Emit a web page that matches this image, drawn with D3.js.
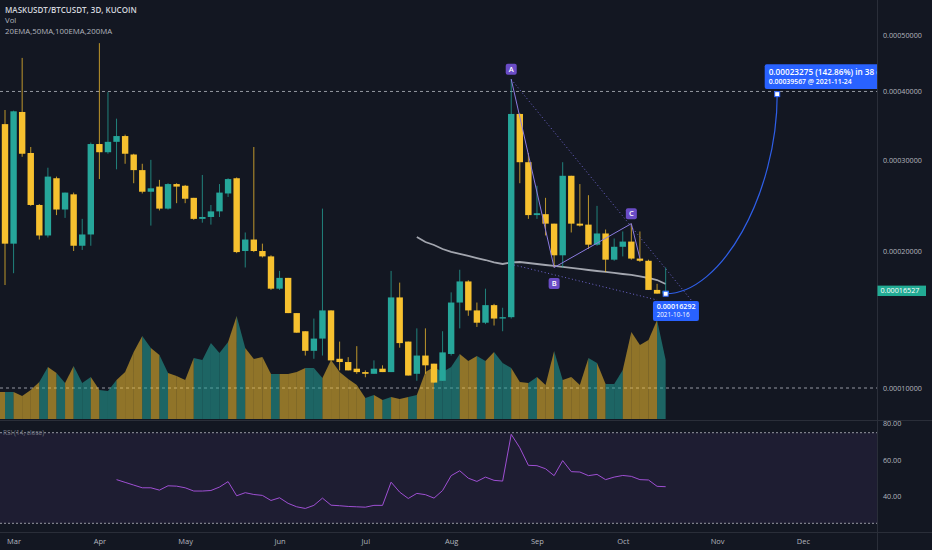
<!DOCTYPE html>
<html>
<head>
<meta charset="utf-8">
<script src="https://cdn.jsdelivr.net/npm/d3@7"></script>
<style>
  html, body { margin: 0; padding: 0; background: #131722; }
  svg { display: block; font-family: "Open Sans", sans-serif; }
</style>
</head>
<body>
<svg id="chart" width="932" height="550"></svg>
<script>
// prices are kept in units of 1e-4 BTC, one bar = 3 days
const firstBar = "2021-02-27";
const barDays = 3;

const opens = [3.50, 2.07, 3.68, 3.10, 2.47, 2.15, 2.78, 2.42, 2.59, 2.05,
  2.16, 3.22, 3.11, 3.25, 3.33, 3.08, 2.88, 2.62, 2.68, 2.43,
  2.71, 2.69, 2.55, 2.32, 2.34, 2.40, 2.60, 2.78, 2.00, 2.11,
  2.00, 1.95, 1.67, 1.76, 1.48, 1.35, 1.22, 1.30, 1.50, 1.17,
  1.15, 1.11, 1.09, 1.08, 1.11, 1.09, 1.60, 1.28, 1.08, 1.19,
  1.14, 1.04, 1.20, 1.56, 1.73, 1.50, 1.41, 1.54, 1.44, 1.45,
  3.65, 2.98, 2.36, 2.37, 2.27, 1.96, 2.81, 2.27, 2.26, 2.06,
  2.17, 1.92, 2.04, 2.09, 1.93, 1.91, 1.66, 1.63];
const highs = [3.71, 3.70, 4.57, 3.18, 2.48, 2.91, 2.80, 2.61, 2.61, 2.32,
  3.24, 4.84, 3.99, 3.58, 3.35, 3.09, 2.96, 3.01, 2.76, 2.72,
  2.72, 2.70, 2.55, 2.82, 2.47, 2.71, 2.78, 2.79, 2.18, 3.18,
  2.07, 1.96, 1.82, 1.76, 1.48, 1.35, 1.44, 2.43, 1.50, 1.28,
  1.18, 1.25, 1.10, 1.16, 1.13, 1.82, 1.72, 1.28, 1.37, 1.37,
  1.14, 1.35, 1.64, 1.83, 1.74, 1.56, 1.67, 1.55, 1.52, 4.20,
  3.66, 3.10, 2.69, 2.55, 2.27, 2.98, 2.81, 2.71, 2.58, 2.46,
  2.21, 2.12, 2.19, 2.27, 2.19, 1.92, 1.71, 1.85];
const lows = [1.70, 1.80, 3.05, 2.46, 2.11, 2.13, 2.36, 2.33, 2.00, 2.01,
  2.05, 2.77, 3.09, 2.89, 2.96, 2.72, 2.60, 2.25, 2.41, 2.42,
  2.49, 2.49, 2.31, 2.28, 2.26, 2.34, 2.56, 1.98, 1.85, 1.99,
  1.94, 1.66, 1.66, 1.48, 1.34, 1.19, 1.17, 1.19, 1.16, 1.10,
  1.10, 1.08, 1.06, 1.08, 1.09, 1.09, 1.24, 1.07, 1.04, 1.08,
  1.03, 1.04, 1.19, 1.37, 1.46, 1.38, 1.40, 1.39, 1.35, 1.44,
  2.72, 2.32, 2.32, 2.15, 1.85, 1.85, 2.18, 2.24, 2.02, 2.05,
  1.81, 1.91, 1.95, 1.92, 1.90, 1.66, 1.63, 1.6292];
const closes = [2.07, 3.69, 3.09, 2.47, 2.15, 2.80, 2.42, 2.61, 2.05, 2.16,
  3.22, 3.11, 3.25, 3.33, 3.09, 2.88, 2.62, 2.66, 2.43, 2.71,
  2.68, 2.54, 2.32, 2.34, 2.40, 2.61, 2.77, 1.99, 2.11, 2.00,
  1.95, 1.67, 1.76, 1.48, 1.34, 1.22, 1.30, 1.50, 1.16, 1.15,
  1.10, 1.09, 1.08, 1.11, 1.09, 1.60, 1.27, 1.07, 1.19, 1.13,
  1.03, 1.21, 1.56, 1.73, 1.50, 1.41, 1.54, 1.44, 1.45, 3.65,
  2.98, 2.36, 2.38, 2.27, 1.96, 2.81, 2.27, 2.25, 2.06, 2.17,
  1.92, 2.04, 2.09, 1.93, 1.91, 1.66, 1.63, 1.6527];
const volumes = [27, 27, 23, 29, 37, 52, 46, 36, 53, 36,
  42, 29, 28, 39, 47, 67, 83, 71, 64, 46,
  43, 39, 61, 59, 76, 66, 77, 103, 71, 60,
  62, 45, 45, 45, 47, 51, 51, 41, 59, 47,
  40, 34, 21, 24, 19, 22, 20, 22, 24, 47,
  52, 47, 52, 65, 58, 63, 58, 67, 56, 51,
  37, 36, 42, 34, 68, 39, 42, 34, 61, 56,
  35, 35, 49, 87, 74, 79, 99, 59];

// moving average (grey line) starts at bar 48
const maStart = 48;
const maValues = [2.135, 2.086, 2.057, 2.019, 1.991, 1.973, 1.954, 1.935, 1.917, 1.895,
  1.881, 1.895, 1.899, 1.890, 1.881, 1.872, 1.864, 1.855, 1.846, 1.837,
  1.828, 1.819, 1.811, 1.802, 1.793, 1.785, 1.772, 1.759, 1.742, 1.709];

// RSI(14) starts at bar 13
const rsiStart = 13;
const rsiValues = [49.1, 47.6, 46.1, 44.6, 44.6, 43.3, 45.7, 45.5, 44.6, 42.8,
  42.8, 43.1, 45.0, 48.0, 40.2, 41.9, 40.9, 40.4, 37.6, 39.1,
  36.0, 34.1, 33.2, 34.9, 38.9, 35.0, 34.7, 34.3, 34.1, 33.9,
  34.9, 34.9, 47.7, 42.2, 38.7, 41.5, 40.8, 38.9, 43.1, 51.3,
  54.0, 49.9, 48.1, 50.5, 48.7, 48.3, 74.1, 66.7, 57.0, 56.8,
  55.1, 51.3, 59.6, 53.5, 53.3, 51.3, 52.0, 49.1, 50.5, 51.4,
  50.9, 49.1, 48.9, 45.4, 45.2];

const monthTicks = ["2021-03-02", "2021-04-01", "2021-05-01", "2021-06-03", "2021-07-03",
  "2021-08-02", "2021-09-01", "2021-10-01", "2021-11-03", "2021-12-03"];
const priceTicks = [1, 2, 3, 4, 5];
const rsiTicks = [40, 60, 80];
const hLevels = [4, 1];

// ABCD pattern: [label, bar index, price]
const patternPoints = [["A", 59, 4.20], ["B", 64, 1.85], ["C", 73, 2.27], ["", 74, 1.93]];
const trendUpper = [[59, 4.20], [80.5, 1.55]];
const trendLower = [[59.4, 1.872], [76.1, 1.58]];

// forecast
const fcStart = ["2021-10-16", 1.6292];
const fcEnd = ["2021-11-24", 3.9567];
const lastPrice = 1.6527;

const W = 932, H = 550, paneRight = 877;
const UP = "#26a69a", DOWN = "#f7c12f", TXT = "#b2b5be", LINE = "#2a2e39";

const parse = d3.utcParse("%Y-%m-%d");
const d0 = parse(firstBar);
const dates = opens.map((_, i) => d3.utcDay.offset(d0, i * barDays));

const x = d3.scaleUtc().domain([d0, parse("2021-12-29")]).range([5, paneRight + 0.3]);
const y = d3.scalePow().exponent(0.22).domain([1, 5]).range([388, 34.7]);
const vy = d3.scaleLinear().domain([0, 103]).range([419, 316]);
const ry = d3.scaleLinear().domain([25, 75]).range([523.3, 432.7]);
const fmtPrice = v => (v * 1e-4).toFixed(8);
const barX = i => x(d3.utcDay.offset(d0, i * barDays));

const svg = d3.select("#chart");
svg.append("rect").attr("width", W).attr("height", H).attr("fill", "#131722");

const defs = svg.append("defs");
defs.append("clipPath").attr("id", "mainClip")
  .append("rect").attr("x", 0).attr("y", 0).attr("width", paneRight).attr("height", 420);

const main = svg.append("g").attr("clip-path", "url(#mainClip)");

// dashed horizontal levels
main.selectAll("line.level")
  .data(hLevels)
  .join("line")
  .attr("x1", 0).attr("x2", paneRight)
  .attr("y1", d => y(d)).attr("y2", d => y(d))
  .attr("stroke", "#9598a1").attr("stroke-width", 1).attr("stroke-dasharray", "3,3");

// volume area, one stripe per bar coloured by candle direction
const isUp = i => closes[i] >= opens[i];
const volArea = d3.area().x(d => x(d.date)).y0(vy(0)).y1(d => vy(d.v));
main.selectAll("path.vol")
  .data(volumes.map((v, i) => ({ i, pts: [
    { date: i ? dates[i - 1] : d3.utcDay.offset(d0, -barDays), v: i ? volumes[i - 1] : v },
    { date: dates[i], v }
  ] })))
  .join("path")
  .attr("d", d => volArea(d.pts))
  .attr("fill", d => isUp(d.i) ? UP : DOWN)
  .attr("fill-opacity", 0.55);

// moving average
main.append("path")
  .datum(maValues)
  .attr("fill", "none")
  .attr("stroke", "#a3a6af")
  .attr("stroke-width", 1.8)
  .attr("d", d3.line().x((d, i) => barX(maStart + i)).y(d => y(d)));

// candles
const candles = main.selectAll("g.candle")
  .data(dates.map((d, i) => ({ d, o: opens[i], h: highs[i], l: lows[i], c: closes[i], up: isUp(i) })))
  .join("g");
candles.append("line")
  .attr("x1", d => x(d.d)).attr("x2", d => x(d.d))
  .attr("y1", d => y(d.h)).attr("y2", d => y(d.l))
  .attr("stroke", d => d.up ? UP : DOWN)
  .attr("stroke-opacity", 0.75)
  .attr("stroke-width", 1);
candles.append("rect")
  .attr("x", d => x(d.d) - 3.2)
  .attr("width", 6.4)
  .attr("y", d => y(Math.max(d.o, d.c)))
  .attr("height", d => Math.max(1, Math.abs(y(d.o) - y(d.c))))
  .attr("fill", d => d.up ? UP : DOWN);

// trend lines (dotted)
const dotted = d3.line().x(d => barX(d[0])).y(d => y(d[1]));
[trendUpper, trendLower].forEach(t => {
  main.append("path").attr("d", dotted(t))
    .attr("fill", "none").attr("stroke", "#6f66d0")
    .attr("stroke-width", 1).attr("stroke-dasharray", "1,2.5");
});

// ABCD pattern
main.append("path")
  .attr("d", d3.line().x(d => barX(d[1])).y(d => y(d[2]))(patternPoints))
  .attr("fill", "none").attr("stroke", "#8b7be0").attr("stroke-width", 1);
const tags = main.selectAll("g.tag")
  .data(patternPoints.filter(p => p[0]))
  .join("g")
  .attr("transform", d => {
    const dy = d[0] === "B" ? 16 : -10;
    return `translate(${barX(d[1])},${y(d[2]) + dy})`;
  });
tags.append("rect").attr("x", -5.5).attr("y", -5.5).attr("width", 11).attr("height", 11)
  .attr("rx", 2).attr("fill", "#6a4cc6");
tags.append("text").attr("text-anchor", "middle").attr("dy", "0.36em")
  .attr("fill", "#fff").style("font-size", "7.5px").style("font-weight", 600)
  .text(d => d[0]);

// forecast curve
const sx = x(parse(fcStart[0])), sy = y(fcStart[1]);
const ex = x(parse(fcEnd[0])), ey = y(fcEnd[1]);
const fp = d3.path();
fp.moveTo(sx, sy);
fp.bezierCurveTo(sx + (ex - sx) * 0.5, sy, ex, ey + (sy - ey) * 0.5, ex, ey);
main.append("path").attr("d", fp.toString())
  .attr("fill", "none").attr("stroke", "#2f5fe8").attr("stroke-width", 1.2);

main.append("rect").attr("x", sx - 12.7).attr("y", sy + 7.3).attr("width", 46).attr("height", 20)
  .attr("rx", 2).attr("fill", "#2962ff");
main.append("text").attr("x", sx - 9).attr("y", sy + 15).attr("fill", "#fff")
  .style("font-size", "7.2px").style("font-weight", 600).text(fmtPrice(fcStart[1]));
main.append("text").attr("x", sx - 9).attr("y", sy + 23.3).attr("fill", "#fff")
  .style("font-size", "6.3px").text(fcStart[0]);

main.append("rect").attr("x", ex - 12.5).attr("y", ey - 29.8).attr("width", 140).attr("height", 24.7)
  .attr("rx", 2).attr("fill", "#2962ff");
const change = fcEnd[1] - fcStart[1];
main.append("text").attr("x", ex - 8.5).attr("y", ey - 19.6).attr("fill", "#fff")
  .style("font-size", "8.2px").style("font-weight", 600)
  .text(`${fmtPrice(change)} (${(change / fcStart[1] * 100).toFixed(2)}%) in 38 days`);
main.append("text").attr("x", ex - 8.5).attr("y", ey - 10.6).attr("fill", "#fff")
  .style("font-size", "6.9px").style("font-weight", 600)
  .text(`${fmtPrice(fcEnd[1])} @ ${fcEnd[0]}`);

[[sx, sy], [ex, ey]].forEach(p => {
  main.append("rect").attr("x", p[0] - 2.5).attr("y", p[1] - 2.5).attr("width", 5).attr("height", 5)
    .attr("fill", "#fff").attr("stroke", "#2962ff").attr("stroke-width", 1);
});

// RSI pane
svg.append("rect").attr("x", 0).attr("width", paneRight)
  .attr("y", ry(75)).attr("height", ry(25) - ry(75))
  .attr("fill", "#7e57c2").attr("fill-opacity", 0.1);
svg.selectAll("line.band")
  .data([75, 25])
  .join("line")
  .attr("x1", 0).attr("x2", paneRight)
  .attr("y1", d => ry(d)).attr("y2", d => ry(d))
  .attr("stroke", "#9598a1").attr("stroke-width", 1).attr("stroke-dasharray", "2,2");
svg.append("path")
  .datum(rsiValues)
  .attr("fill", "none").attr("stroke", "#9e4fd3").attr("stroke-width", 1)
  .attr("d", d3.line().x((d, i) => barX(rsiStart + i)).y(d => ry(d)));
svg.append("text").attr("x", 3).attr("y", ry(75)).attr("dy", "0.35em")
  .attr("fill", "#787b86").style("font-size", "6.5px").text("RSI (14, close)");

// separators
svg.append("line").attr("x1", paneRight + 0.5).attr("x2", paneRight + 0.5).attr("y1", 0).attr("y2", H)
  .attr("stroke", LINE);
svg.selectAll("line.sep")
  .data([420.5, 532.5])
  .join("line")
  .attr("x1", 0).attr("x2", W).attr("y1", d => d).attr("y2", d => d)
  .attr("stroke", LINE);

// price axis
const yAxis = svg.append("g")
  .attr("transform", `translate(${paneRight},0)`)
  .call(d3.axisRight(y).tickValues(priceTicks).tickSize(0).tickPadding(6).tickFormat(fmtPrice));
yAxis.select(".domain").remove();
yAxis.selectAll("text").attr("fill", TXT).style("font-size", "7.2px").style("font-family", "Open Sans");

// RSI axis
const rAxis = svg.append("g")
  .attr("transform", `translate(${paneRight},0)`)
  .call(d3.axisRight(ry).tickValues(rsiTicks).tickSize(0).tickPadding(6).tickFormat(d3.format(".2f")));
rAxis.select(".domain").remove();
rAxis.selectAll("text").attr("fill", TXT).style("font-size", "7.2px").style("font-family", "Open Sans");

// last price tag
const lp = svg.append("g").attr("transform", `translate(${paneRight + 0.5},${y(lastPrice)})`);
lp.append("rect").attr("x", 0).attr("y", -5.2).attr("width", 48.5).attr("height", 10.4).attr("fill", "#22ab94");
lp.append("text").attr("x", 3).attr("dy", "0.35em").attr("fill", "#fff")
  .style("font-size", "7.2px").text(fmtPrice(lastPrice));

// time axis
const xAxis = svg.append("g")
  .attr("transform", "translate(0,533)")
  .call(d3.axisBottom(x).tickValues(monthTicks.map(parse)).tickSize(0).tickPadding(6)
    .tickFormat(d3.utcFormat("%b")));
xAxis.select(".domain").remove();
xAxis.selectAll("text").attr("fill", TXT).style("font-size", "7.5px").style("font-family", "Open Sans");

// legend
svg.append("text").attr("x", 5).attr("y", 10).attr("dy", "0.35em")
  .attr("fill", "#d1d4dc").style("font-size", "8px").style("font-weight", 600)
  .text("MASKUSDT/BTCUSDT, 3D, KUCOIN");
svg.append("text").attr("x", 5).attr("y", 20.7).attr("dy", "0.35em")
  .attr("fill", TXT).style("font-size", "7.8px").text("Vol");
svg.append("text").attr("x", 5).attr("y", 31.7).attr("dy", "0.35em")
  .attr("fill", TXT).style("font-size", "7.8px").text("20EMA,50MA,100EMA,200MA");
</script>
</body>
</html>
